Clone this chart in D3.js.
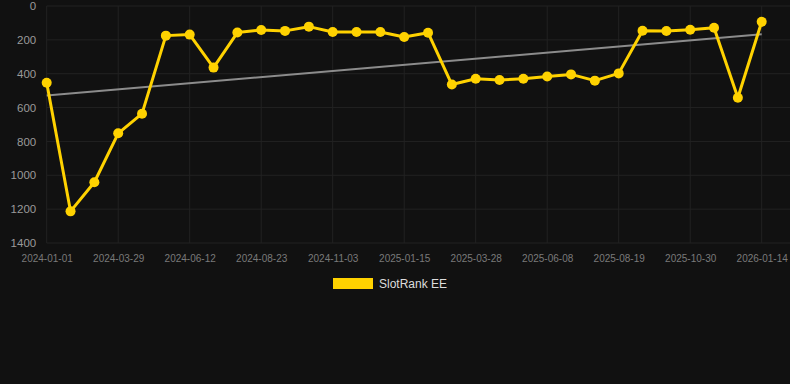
<!DOCTYPE html>
<html>
<head>
<meta charset="utf-8">
<script src="https://cdn.jsdelivr.net/npm/d3@7"></script>
<style>
  html, body { margin: 0; padding: 0; background: #111111; }
  svg { display: block; font-family: "Liberation Sans", Arial, sans-serif; }
  .grid line { stroke: #222222; stroke-width: 1; }
  .axis path, .axis line { display: none; }
</style>
</head>
<body>
<svg id="chart" width="790" height="384"></svg>
<script>
var dates = [
  "2024-01-01", "2024-01-30", "2024-02-28", "2024-03-29", "2024-04-23", "2024-05-18",
  "2024-06-12", "2024-07-06", "2024-07-30", "2024-08-23", "2024-09-16", "2024-10-10",
  "2024-11-03", "2024-11-27", "2024-12-21", "2025-01-15", "2025-02-08", "2025-03-04",
  "2025-03-28", "2025-04-21", "2025-05-15", "2025-06-08", "2025-07-02", "2025-07-26",
  "2025-08-19", "2025-09-12", "2025-10-06", "2025-10-30", "2025-11-24", "2025-12-19",
  "2026-01-14"
];
var rank = [
  453, 1213, 1041, 752, 636, 175,
  169, 364, 157, 142, 147, 122,
  154, 154, 154, 183, 158, 464,
  430, 437, 430, 416, 404, 441,
  398, 146, 148, 140, 128, 542,
  93
];
var trend = [528, 167]; // first and last value of the trend line
var yTicks = [0, 200, 400, 600, 800, 1000, 1200, 1400];
var seriesName = "SlotRank EE";

var plot = { left: 46.7, right: 790, top: 6, bottom: 243 };

var svg = d3.select("#chart");

var x = d3.scalePoint()
  .domain(dates)
  .range([plot.left, 761.7]);

var y = d3.scaleLinear()
  .domain([0, 1400])
  .range([plot.top, plot.bottom]);

var xTicks = dates.filter(function(d, i) { return i % 3 === 0; });

// grid
var grid = svg.append("g").attr("class", "grid");
grid.selectAll(".h")
  .data(yTicks)
  .enter().append("line")
  .attr("x1", plot.left).attr("x2", plot.right)
  .attr("y1", function(d) { return y(d); })
  .attr("y2", function(d) { return y(d); });
grid.selectAll(".v")
  .data(xTicks)
  .enter().append("line")
  .attr("x1", function(d) { return x(d); })
  .attr("x2", function(d) { return x(d); })
  .attr("y1", plot.top).attr("y2", plot.bottom);

// axes
svg.append("g")
  .attr("class", "axis")
  .attr("transform", "translate(" + (plot.left - 10.5) + ",0)")
  .call(d3.axisLeft(y).tickValues(yTicks).tickFormat(d3.format("d")).tickSize(0).tickPadding(0))
  .selectAll("text")
  .attr("font-size", 11.5)
  .attr("fill", "#9a9a9a");

svg.append("g")
  .attr("class", "axis")
  .attr("transform", "translate(0," + plot.bottom + ")")
  .call(d3.axisBottom(x).tickValues(xTicks).tickSize(0).tickPadding(12))
  .selectAll("text")
  .attr("font-size", 10)
  .attr("fill", "#7a7a7a");

svg.selectAll(".axis text").attr("font-family", "Liberation Sans, Arial, sans-serif");

// trend line
svg.append("line")
  .attr("x1", x(dates[0]))
  .attr("x2", x(dates[dates.length - 1]))
  .attr("y1", y(trend[0]))
  .attr("y2", y(trend[1]))
  .attr("stroke", "#8c8c8c")
  .attr("stroke-width", 2);

// series
var line = d3.line()
  .x(function(d, i) { return x(dates[i]); })
  .y(function(d) { return y(d); });

svg.append("path")
  .datum(rank)
  .attr("d", line)
  .attr("fill", "none")
  .attr("stroke", "#ffd200")
  .attr("stroke-width", 3)
  .attr("stroke-linejoin", "round");

svg.selectAll(".dot")
  .data(rank)
  .enter().append("circle")
  .attr("cx", function(d, i) { return x(dates[i]); })
  .attr("cy", function(d) { return y(d); })
  .attr("r", 5)
  .attr("fill", "#ffd200");

// legend
var legend = svg.append("g").attr("transform", "translate(333,278)");
legend.append("rect")
  .attr("width", 40).attr("height", 11)
  .attr("fill", "#ffd200");
legend.append("text")
  .attr("x", 46).attr("y", 10)
  .attr("font-size", 12)
  .attr("fill", "#dddddd")
  .text(seriesName);
</script>
</body>
</html>
